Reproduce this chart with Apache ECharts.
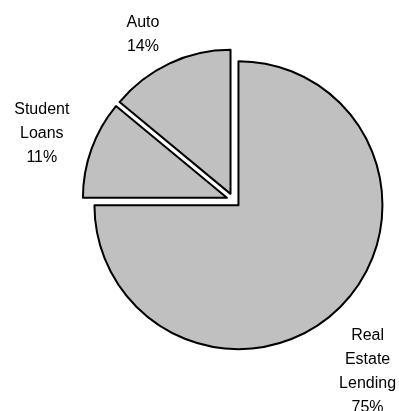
<!DOCTYPE html>
<html>
<head>
<meta charset="utf-8">
<script src="https://cdn.jsdelivr.net/npm/echarts@6/dist/echarts.min.js"></script>
<style>
  html, body { margin: 0; padding: 0; background: #fff; }
  #chart { width: 399px; height: 411px; }
</style>
</head>
<body>
<div id="chart"></div>
<script>
// Loan portfolio mix (percent of total)
const categories = ['Real\nEstate\nLending', 'Student\nLoans', 'Auto'];
const shares = [75, 11, 14];

// Nudges for the outside labels so they sit clear of the slices
const labelNudge = [
  { dx: -13, dy: 24 },
  { dx: 4, dy: 4 },
  { dx: -2, dy: 23 }
];

const center = [233.5, 200.2];
const pieData = categories.map((name, i) => ({ name, value: shares[i], selected: true }));
const labelData = categories.map((name, i) => ({ name, value: shares[i] }));

const chart = echarts.init(document.getElementById('chart'), null, { renderer: 'canvas' });
chart.setOption({
  animation: false,
  backgroundColor: '#ffffff',
  series: [
    {
      type: 'pie',
      center: center,
      radius: 144,
      startAngle: 90,
      clockwise: true,
      selectedMode: 'multiple',
      selectedOffset: 7,
      silent: true,
      data: pieData,
      itemStyle: { color: '#c0c0c0', borderColor: '#000000', borderWidth: 2 },
      label: { show: false },
      labelLine: { show: false },
      emphasis: { disabled: true }
    },
    {
      // transparent ring that carries the category labels
      type: 'pie',
      center: center,
      radius: [180, 230],
      startAngle: 90,
      clockwise: true,
      silent: true,
      data: labelData,
      itemStyle: { color: 'rgba(0,0,0,0)', borderWidth: 0 },
      label: {
        show: true,
        position: 'inside',
        formatter: p => p.name + '\n' + p.value + '%',
        color: '#000000',
        fontFamily: '"Liberation Sans", Arial, sans-serif',
        fontSize: 16,
        lineHeight: 24,
        align: 'center'
      },
      labelLine: { show: false },
      labelLayout: p => labelNudge[p.dataIndex],
      emphasis: { disabled: true }
    }
  ]
});
</script>
</body>
</html>
